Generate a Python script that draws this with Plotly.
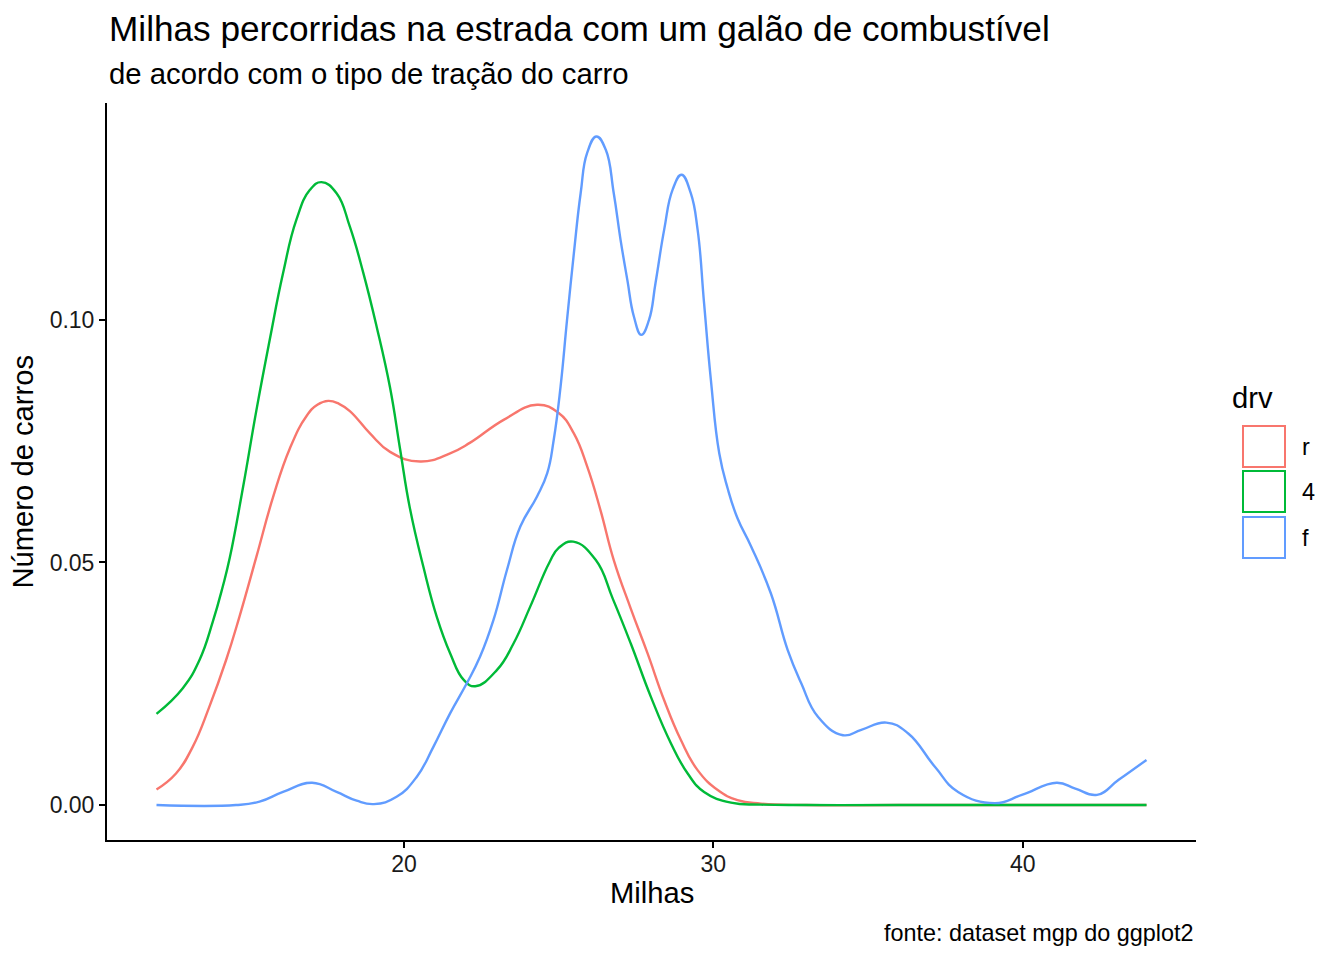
import plotly.graph_objects as go

# density curves (hwy mpg vs density), one per drv group
hwy_r = [12.0, 12.63, 13.17, 13.71, 14.25, 14.68, 15.23, 15.77, 16.31, 16.85, 17.2, 17.55,
         17.9, 18.25, 18.9, 19.55, 20.52, 21.49, 22.14, 23.22, 24.3, 25.0, 25.49, 25.92,
         26.35, 26.78, 27.33, 27.87, 28.41, 28.95, 29.49, 30.14, 30.78, 31.54, 33.0, 36.0,
         40.0, 44.0]
dens_r = [0.0032, 0.0065, 0.012, 0.0203, 0.0299, 0.0388, 0.0512, 0.0635, 0.0735, 0.0802, 0.0825, 0.0833,
          0.0827, 0.0812, 0.0766, 0.0728, 0.0708, 0.0725, 0.0747, 0.0794, 0.0825, 0.0808, 0.0766, 0.0698,
          0.0608, 0.0505, 0.0405, 0.0313, 0.0216, 0.0134, 0.0072, 0.0031, 0.001, 0.0003, 0.0, 0.0,
          0.0, 0.0]

hwy_4 = [12.0, 12.85, 13.39, 13.82, 14.14, 14.37, 14.8, 15.23, 15.66, 16.09, 16.52, 16.96,
         17.33, 17.82, 18.25, 18.68, 19.12, 19.55, 19.87, 20.19, 20.63, 21.06, 21.49, 21.93,
         22.3, 23.0, 23.54, 24.08, 24.7, 25.0, 25.47, 26.2, 26.75, 27.33, 27.98, 28.63,
         29.17, 29.7, 30.57, 31.54, 33.0, 36.0, 40.0, 44.0]
dens_4 = [0.0188, 0.0241, 0.0299, 0.0378, 0.045, 0.051, 0.0656, 0.0814, 0.0959, 0.1096, 0.1206, 0.1268,
          0.1284, 0.1261, 0.1192, 0.1098, 0.0985, 0.086, 0.0735, 0.0612, 0.049, 0.0388, 0.0313, 0.0258,
          0.0245, 0.0278, 0.0333, 0.0409, 0.05, 0.053, 0.0543, 0.0505, 0.0425, 0.0333, 0.0223, 0.0127,
          0.0065, 0.0027, 0.0005, 0.0001, 0.0, 0.0, 0.0, 0.0]

hwy_f = [12.0, 14.57, 15.33, 16.09, 17.03, 17.82, 18.47, 19.03, 19.76, 20.41, 20.95, 21.49,
         22.03, 22.46, 22.89, 23.33, 23.76, 24.3, 24.63, 24.84, 25.06, 25.27, 25.49, 25.71,
         25.92, 26.22, 26.52, 26.78, 27.0, 27.22, 27.43, 27.67, 27.92, 28.13, 28.41, 28.68,
         28.97, 29.27, 29.49, 29.7, 29.92, 30.19, 30.46, 30.78, 31.22, 31.86, 32.4, 32.84,
         33.38, 34.19, 34.78, 35.59, 36.29, 37.16, 37.91, 39.1, 39.97, 41.1, 41.7, 42.4,
         43.1, 44.0]
dens_f = [0.0, 0.0, 0.0007, 0.0027, 0.0046, 0.0027, 0.0009, 0.0002, 0.0017, 0.0058, 0.012, 0.0189,
          0.0251, 0.0306, 0.0381, 0.0485, 0.0574, 0.0636, 0.0684, 0.0753, 0.0862, 0.1, 0.1137, 0.1261,
          0.1344, 0.1378, 0.1351, 0.1261, 0.1165, 0.1082, 0.1007, 0.0969, 0.1, 0.1076, 0.1186, 0.1268,
          0.1299, 0.1261, 0.1186, 0.1034, 0.0876, 0.0725, 0.0653, 0.0591, 0.0533, 0.0436, 0.032, 0.0251,
          0.0182, 0.0144, 0.0155, 0.017, 0.0148, 0.0079, 0.0027, 0.0004, 0.0021, 0.0046, 0.0034, 0.0021,
          0.0052, 0.0093]

groups = ['r', '4', 'f']
colors = ['#F8766D', '#00BA38', '#619CFF']
x_ticks = [20, 30, 40]
y_ticks = [0.0, 0.05, 0.10]

FONT = 'Liberation Sans, Arial, sans-serif'

# the page puts the figure 8px in from the top-left corner, so shift everything back
OFF = 8
W, H = 1344 - OFF, 960 - OFF
# plot area in page pixels (left, top, right, bottom), minus the offset
L, T, R, B = 107 - OFF, 103 - OFF, 1196 - OFF, 840 - OFF


def px(x):
    return (x - OFF - L) / (R - L)


def py(y):
    return (B - (y - OFF)) / (B - T)


fig = go.Figure()
for name, xs, ys, col in zip(groups, [hwy_r, hwy_4, hwy_f], [dens_r, dens_4, dens_f], colors):
    fig.add_trace(go.Scatter(
        x=xs, y=ys, mode='lines', name=name,
        line=dict(color=col, width=2.4, shape='spline', smoothing=1.3),
        showlegend=False
    ))

annotations = [
    dict(text='Milhas percorridas na estrada com um galão de combustível', x=0, y=1, xref='paper', yref='paper',
         xanchor='left', yanchor='middle', yshift=103 - 28, showarrow=False, font=dict(size=35.2, color='black')),
    dict(text='de acordo com o tipo de tração do carro', x=0, y=1, xref='paper', yref='paper',
         xanchor='left', yanchor='middle', yshift=103 - 73, showarrow=False, font=dict(size=29.3, color='black')),
    dict(text='Milhas', x=0.5, y=0, xref='paper', yref='paper', xanchor='center', yanchor='middle',
         yshift=840 - 893, showarrow=False, font=dict(size=29.2, color='black')),
    dict(text='Número de carros', x=0, y=0.5, xref='paper', yref='paper', xanchor='center', yanchor='middle',
         xshift=22 - 107, textangle=-90, showarrow=False, font=dict(size=29.2, color='black')),
    dict(text='fonte: dataset mgp do ggplot2', x=1, y=0, xref='paper', yref='paper', xanchor='right',
         yanchor='middle', yshift=840 - 933, showarrow=False, font=dict(size=23.4, color='black')),
    dict(text='drv', x=px(1230), y=py(398), xref='paper', yref='paper', xanchor='left', yanchor='middle',
         showarrow=False, font=dict(size=29.2, color='black')),
]

# hand-made legend: outlined square keys like ggplot's density legend
shapes = []
key_tops = [426, 471, 517]
for name, col, top in zip(groups, colors, key_tops):
    shapes.append(dict(type='rect', xref='paper', yref='paper',
                       x0=px(1243), x1=px(1285), y0=py(top + 41), y1=py(top),
                       line=dict(color=col, width=2), fillcolor='white'))
    annotations.append(dict(text=name, x=px(1300), y=py(top + 20.5), xref='paper', yref='paper',
                            xanchor='left', yanchor='middle', showarrow=False,
                            font=dict(size=23.4, color='black')))

fig.update_layout(
    width=W, height=H,
    margin=dict(l=L, r=W - R, t=T, b=H - B, autoexpand=False),
    paper_bgcolor='white', plot_bgcolor='white',
    font=dict(family=FONT, color='black'),
    annotations=annotations,
    shapes=shapes,
    xaxis=dict(range=[10.4, 45.6], tickvals=x_ticks, showgrid=False, zeroline=False,
               showline=True, linecolor='black', linewidth=2, ticks='outside', ticklen=6,
               tickwidth=2, tickcolor='black', ticklabelstandoff=-4,
               tickfont=dict(size=23, color='#1a1a1a')),
    yaxis=dict(range=[-0.0072, 0.1447], tickvals=y_ticks, tickformat='.2f', showgrid=False,
               zeroline=False, showline=True, linecolor='black', linewidth=2, ticks='outside',
               ticklen=6, tickwidth=2, tickcolor='black', tickfont=dict(size=23, color='#1a1a1a')),
)

fig.write_html("out.html")
